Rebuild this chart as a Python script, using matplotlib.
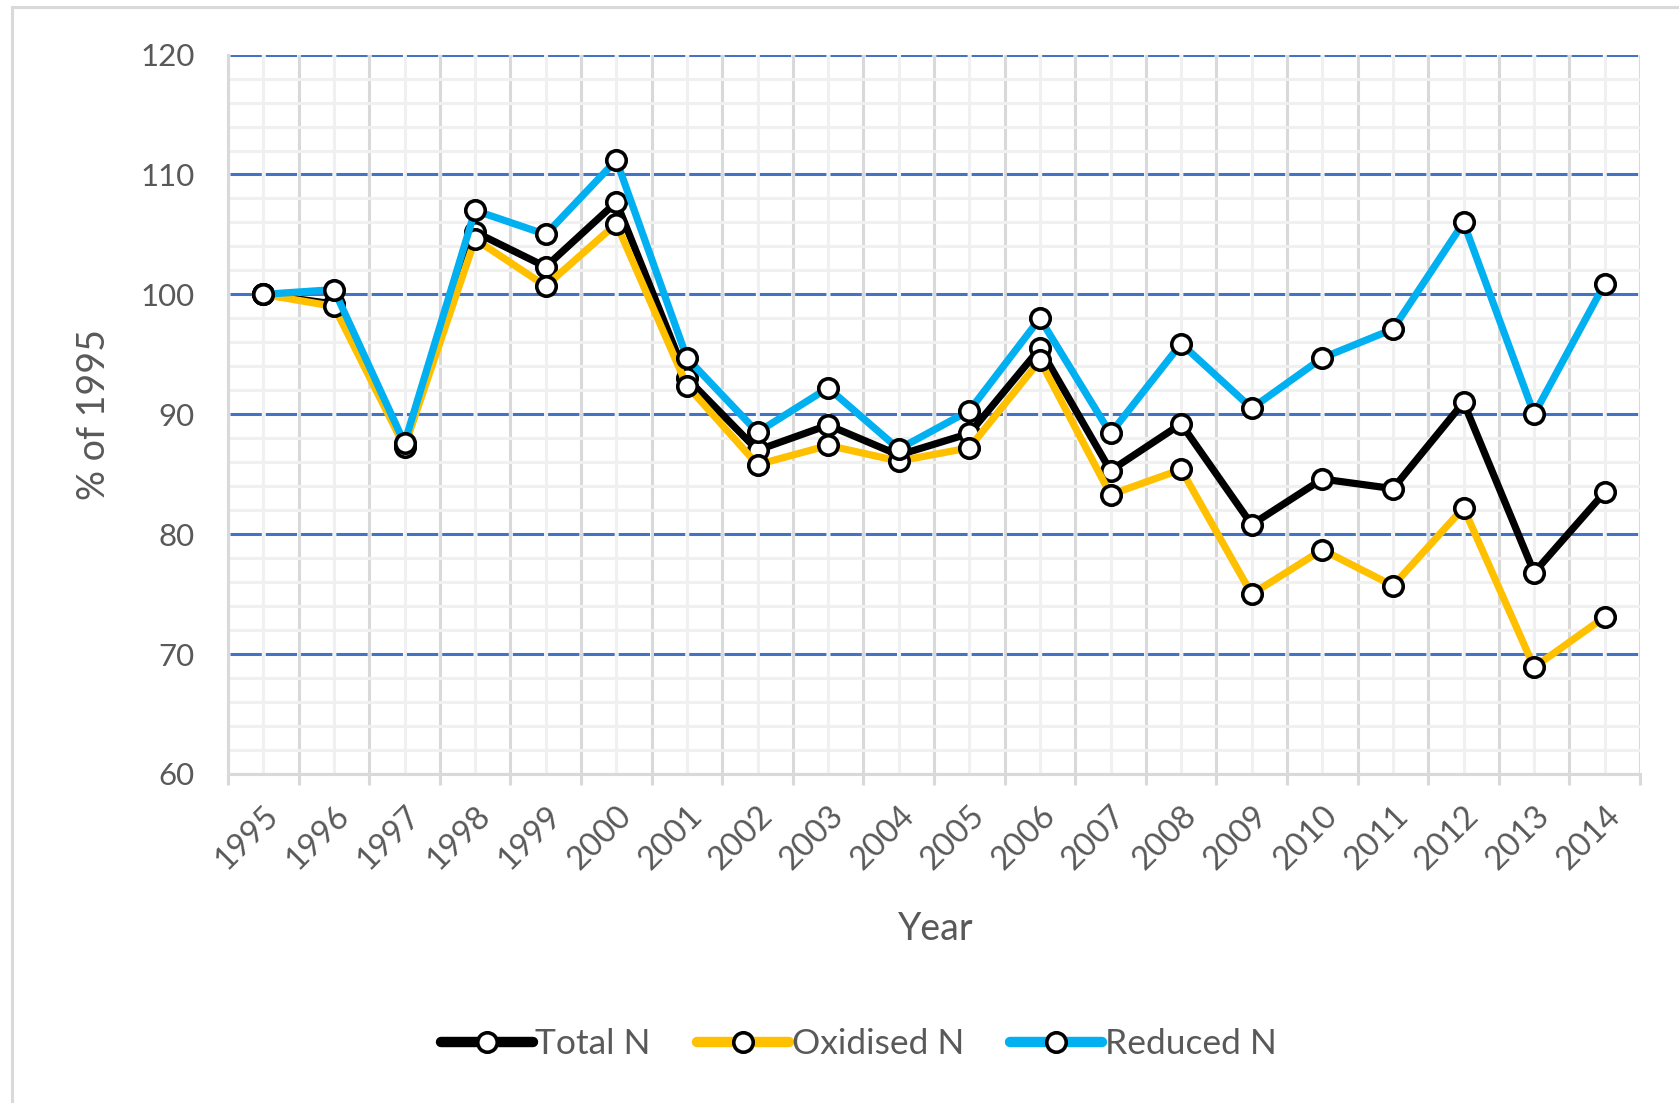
import matplotlib.pyplot as plt
import matplotlib.patches as mpatches
from matplotlib.lines import Line2D
from matplotlib.transforms import ScaledTranslation
import numpy as np

plt.rcParams['font.family'] = ['Lato', 'DejaVu Sans']

years = [str(y) for y in range(1995, 2015)]
total_n = [100, 99.2, 87.4, 105.2, 102.3, 107.7, 93.0, 87.0, 89.1, 86.6,
           88.4, 95.5, 85.3, 89.2, 80.8, 84.6, 83.8, 91.0, 76.8, 83.5]
oxidised_n = [100, 99.0, 87.3, 104.6, 100.7, 105.9, 92.4, 85.8, 87.4, 86.1,
              87.2, 94.5, 83.3, 85.4, 75.0, 78.7, 75.7, 82.2, 68.9, 73.1]
reduced_n = [100, 100.4, 87.6, 107.0, 105.0, 111.2, 94.7, 88.5, 92.2, 87.1,
             90.3, 98.0, 88.4, 95.9, 90.5, 94.7, 97.1, 106.0, 90.0, 100.9]

series = [("Total N", total_n, "#000000"),
          ("Oxidised N", oxidised_n, "#FFC000"),
          ("Reduced N", reduced_n, "#00B0F0")]
grey_txt = '#595959'

fig = plt.figure(figsize=(16.79, 11.03), dpi=100)
ax = fig.add_axes([0.1358, 0.2983, 0.9768 - 0.1358, 0.9505 - 0.2983])

x = np.arange(len(years))
for name, vals, col in series:
    ax.plot(x, vals, color=col, lw=5.2, marker='o', ms=14,
            mfc='white', mec='black', mew=2.6, label=name, zorder=3,
            solid_capstyle='round', solid_joinstyle='round')

ax.set_xlim(-0.5, len(years) - 0.5)
ax.set_ylim(60, 120)

# category boundaries = major ticks, centres carry labels
ax.set_xticks(np.arange(len(years) + 1) - 0.5)
ax.set_xticklabels([])
ax.set_xticks(x, minor=True)
ax.set_xticklabels(years, minor=True, rotation=45, ha='right',
                   rotation_mode='anchor', fontsize=23.5, color=grey_txt)
shift = ScaledTranslation(-7 / 72, 0, fig.dpi_scale_trans)
for lbl in ax.get_xticklabels(minor=True):
    lbl.set_transform(lbl.get_transform() + shift)
ax.tick_params(axis='x', which='major', length=8, width=2.2, color='#d9d9d9',
               direction='out')
ax.tick_params(axis='x', which='minor', length=0, pad=19)

ax.set_yticks(np.arange(60, 121, 10))
ax.set_yticks(np.arange(60, 121, 2), minor=True)
ax.tick_params(axis='y', which='both', length=0, pad=24, labelsize=22.5,
               labelcolor=grey_txt)

ax.grid(which='major', axis='x', color='#d9d9d9', lw=2.2, zorder=0)
ax.grid(which='minor', axis='x', color='#f0f0f0', lw=2.2, zorder=0)
ax.grid(which='minor', axis='y', color='#f0f0f0', lw=2.2, zorder=0)
ax.grid(which='major', axis='y', color='#4472C4', lw=2.2,
        ls=(10.9, (10.24, 1.31)), zorder=1)
ax.set_axisbelow(True)

for s in ['top', 'right']:
    ax.spines[s].set_visible(False)
for s in ['left', 'bottom']:
    ax.spines[s].set_color('#d9d9d9')
    ax.spines[s].set_linewidth(2.2)

fig.text(0.5573, 1 - 929 / 1103, "Year", fontsize=27, color=grey_txt,
         ha='center', va='center')
fig.text(0.056, 0.624, "% of 1995", fontsize=27, color=grey_txt,
         ha='center', va='center', rotation=90)

handles = [Line2D([], [], color=col, lw=7.5, solid_capstyle='round',
                  marker='o', ms=14, mfc='white', mec='black', mew=2.6)
           for _, _, col in series]
fig.legend(handles, [s[0] for s in series], loc='center',
           bbox_to_anchor=(0.5115, 0.0535), ncol=3, frameon=False,
           fontsize=25.5, handlelength=2.6, handletextpad=0.08,
           columnspacing=1.3, labelcolor=grey_txt)

fig.patches.append(mpatches.Rectangle((0.0071, -0.05), 1.1, 1.0437,
                                      transform=fig.transFigure, fill=False,
                                      ec='#d9d9d9', lw=2.2))

fig.savefig("out.png", dpi=100)
